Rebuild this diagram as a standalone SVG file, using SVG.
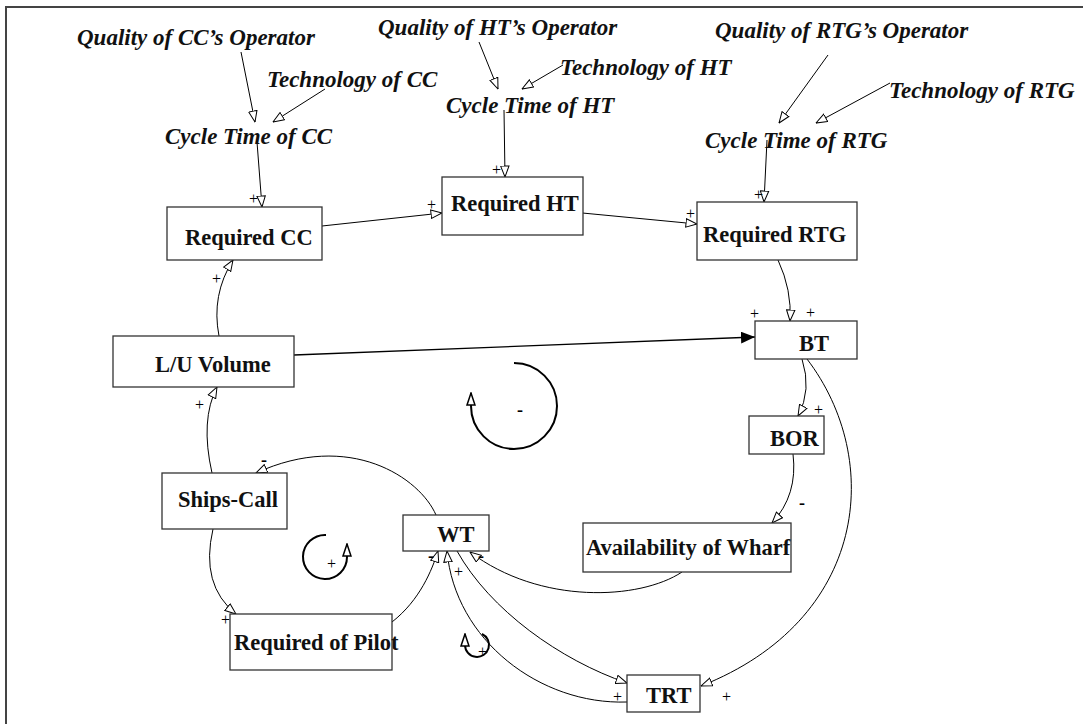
<svg xmlns="http://www.w3.org/2000/svg" width="1083" height="724" viewBox="0 0 1083 724">
  <style>
    .var { font-family: "Liberation Serif", "Times New Roman", serif; font-style: italic; font-weight: bold; font-size: 23px; fill: #111; }
    .lbl { font-family: "Liberation Serif", "Times New Roman", serif; font-weight: bold; font-size: 22.5px; fill: #111; }
    .box { fill: #fff; stroke: #333; stroke-width: 1.3; }
    .link { fill: none; stroke: #000; stroke-width: 1; marker-end: url(#open); }
    .loop { fill: none; stroke: #000; stroke-width: 2; marker-end: url(#loopHead); }
    .sign { font-family: "Liberation Serif", "Times New Roman", serif; font-size: 16px; fill: #000; }
    .neg { font-family: "Liberation Serif", "Times New Roman", serif; font-size: 18px; font-weight: bold; fill: #000; }
  </style>
  <defs>
    <marker id="open" viewBox="0 0 12 10" refX="11.5" refY="5" markerWidth="12" markerHeight="10" markerUnits="userSpaceOnUse" orient="auto">
      <path d="M0.5,0.8 L11.5,5 L0.5,9.2 Z" fill="#fff" stroke="#000" stroke-width="1"/>
    </marker>
    <marker id="solid" viewBox="0 0 14 12" refX="14" refY="6" markerWidth="14" markerHeight="12" markerUnits="userSpaceOnUse" orient="auto">
      <path d="M0,0 L14,6 L0,12 Z" fill="#000"/>
    </marker>
    <marker id="loopHead" viewBox="0 0 14 10" refX="13" refY="5" markerWidth="14" markerHeight="10" markerUnits="userSpaceOnUse" orient="auto">
      <path d="M1,1 L13,5 L1,9 Z" fill="#fff" stroke="#000" stroke-width="1.5"/>
    </marker>
  </defs>

  <rect x="6" y="7" width="1100" height="740" fill="#fff" stroke="#444" stroke-width="2"/>

  <!-- connectors -->
  <g id="connectors">
    <path class="link" d="M241,52 L255,122"/>
    <path class="link" d="M325,89 L273,122"/>
    <path class="link" d="M257,142 L262,207"/>
    <path class="link" d="M322,226 L442,213"/>
    <path class="link" d="M572,212 L697,224"/>
    <path class="link" d="M479,42 L498,89"/>
    <path class="link" d="M563,65 L522,89"/>
    <path class="link" d="M504,110 L505,177"/>
    <path class="link" d="M828,55 L779,123"/>
    <path class="link" d="M890,83 L816,123"/>
    <path class="link" d="M767,140 L764,202"/>
    <path class="link" d="M778,260 Q792,290 790,321"/>
    <path d="M294,355 L755,337" fill="none" stroke="#000" stroke-width="1.3" marker-end="url(#solid)"/>
    <path class="link" d="M219,336 Q211,295 233,260"/>
    <path class="link" d="M212,473 Q200,420 217,387"/>
    <path class="link" d="M436,515 C420,478 350,430 256,473"/>
    <path class="link" d="M213,529 Q200,585 236,614"/>
    <path class="link" d="M392,622 C420,600 432,570 438,551"/>
    <path class="link" d="M627,702 C540,705 455,640 447,551"/>
    <path class="link" d="M457,551 C490,610 560,660 627,683"/>
    <path class="link" d="M682,572 C640,600 540,605 470,552"/>
    <path class="link" d="M802,359 Q812,390 798,416"/>
    <path class="link" d="M793,454 Q798,495 772,523"/>
    <path class="link" d="M807,359 C884,460 868,620 701,686"/>

    <!-- polarity marks -->
    <text class="sign" x="249" y="204">+</text>
    <text class="sign" x="427" y="210">+</text>
    <text class="sign" x="686" y="219">+</text>
    <text class="sign" x="492" y="175">+</text>
    <text class="sign" x="754" y="200">+</text>
    <text class="sign" x="806" y="318">+</text>
    <text class="sign" x="750" y="319">+</text>
    <text class="sign" x="212" y="284">+</text>
    <text class="sign" x="195" y="410">+</text>
    <text class="neg" x="261" y="466">-</text>
    <text class="sign" x="221" y="625">+</text>
    <text class="neg" x="428" y="562">-</text>
    <text class="sign" x="454" y="577">+</text>
    <text class="neg" x="478" y="562">-</text>
    <text class="sign" x="613" y="702">+</text>
    <text class="sign" x="722" y="702">+</text>
    <text class="sign" x="814" y="415">+</text>
    <text class="neg" x="799" y="509">-</text>

    <!-- loop indicators -->
    <path class="loop" d="M514,363 A43,43 0 1 1 471,406 L471,393"/>
    <text class="neg" x="517" y="416">-</text>
    <path class="loop" d="M326,535 A22,22 0 1 0 347,557 L347,544"/>
    <text class="sign" x="327" y="569">+</text>
    <path class="loop" d="M482,634 A12,12 0 1 1 465,645 L465,634"/>
    <text class="sign" x="478" y="657">+</text>
  </g>

  <!-- auxiliary variables -->
  <g id="quality-cc"><text class="var" x="77" y="45">Quality of CC’s Operator</text></g>
  <g id="technology-cc"><text class="var" x="267" y="87">Technology of CC</text></g>
  <g id="cycle-cc"><text class="var" x="165" y="144">Cycle Time of CC</text></g>
  <g id="quality-ht"><text class="var" x="378" y="35">Quality of HT’s Operator</text></g>
  <g id="technology-ht"><text class="var" x="560" y="75">Technology of HT</text></g>
  <g id="cycle-ht"><text class="var" x="446" y="113">Cycle Time of HT</text></g>
  <g id="quality-rtg"><text class="var" x="715" y="38">Quality of RTG’s Operator</text></g>
  <g id="technology-rtg"><text class="var" x="889" y="98">Technology of RTG</text></g>
  <g id="cycle-rtg"><text class="var" x="705" y="148">Cycle Time of RTG</text></g>

  <!-- boxed variables -->
  <g id="required-cc"><rect class="box" x="167" y="207" width="155" height="53"/><text class="lbl" x="185" y="245">Required CC</text></g>
  <g id="required-ht"><rect class="box" x="442" y="177" width="141" height="58"/><text class="lbl" x="451" y="211">Required HT</text></g>
  <g id="required-rtg"><rect class="box" x="697" y="202" width="160" height="58"/><text class="lbl" x="703" y="242">Required RTG</text></g>
  <g id="lu-volume"><rect class="box" x="113" y="336" width="181" height="51"/><text class="lbl" x="155" y="372">L/U Volume</text></g>
  <g id="ships-call"><rect class="box" x="162" y="473" width="125" height="56"/><text class="lbl" x="178" y="507">Ships-Call</text></g>
  <g id="wt"><rect class="box" x="403" y="515" width="86" height="36"/><text class="lbl" x="437" y="542">WT</text></g>
  <g id="availability"><rect class="box" x="583" y="523" width="208" height="49"/><text class="lbl" x="586" y="555">Availability of Wharf</text></g>
  <g id="bt"><rect class="box" x="755" y="321" width="102" height="38"/><text class="lbl" x="799" y="351">BT</text></g>
  <g id="bor"><rect class="box" x="749" y="416" width="75" height="38"/><text class="lbl" x="770" y="446">BOR</text></g>
  <g id="required-pilot"><rect class="box" x="230" y="614" width="162" height="56"/><text class="lbl" x="234" y="650">Required of Pilot</text></g>
  <g id="trt"><rect class="box" x="627" y="675" width="73" height="37"/><text class="lbl" x="646" y="703">TRT</text></g>
</svg>
